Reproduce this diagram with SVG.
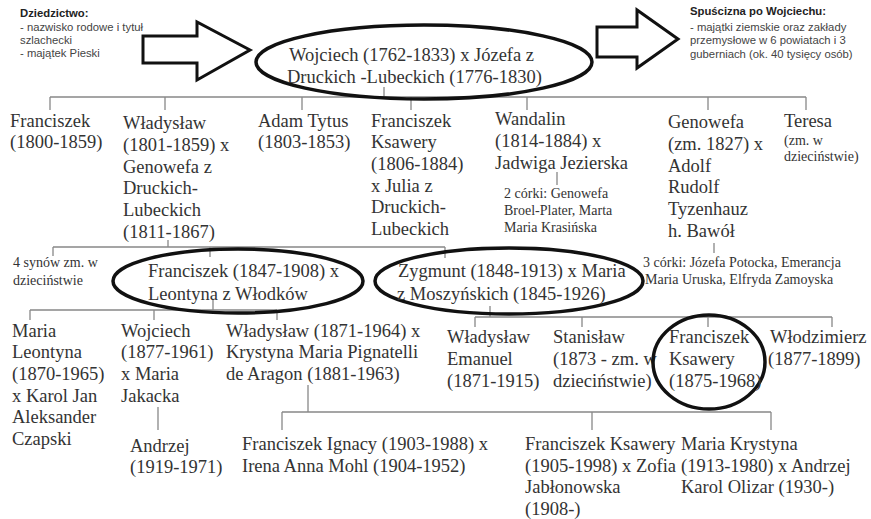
<svg xmlns="http://www.w3.org/2000/svg" width="871" height="519" viewBox="0 0 871 519">
<style>
.t{font-family:"Liberation Serif","Times New Roman",serif;font-size:18.5px;fill:#333}
.s{font-family:"Liberation Serif","Times New Roman",serif;font-size:14px;fill:#333}
.n{font-family:"Liberation Sans",Arial,sans-serif;font-size:11.3px;fill:#444}
.nb{font-family:"Liberation Sans",Arial,sans-serif;font-size:11.3px;font-weight:bold;fill:#222}
.c{stroke:#888;stroke-width:1.3;fill:none}
.e{fill:none;stroke:#111;stroke-width:3.5}
.a{fill:#fff;stroke:#111;stroke-width:3;stroke-linejoin:miter}
</style>
<rect width="871" height="519" fill="#fff"/>
<g id="dziedzictwo">
<text class="nb" x="20" y="17">Dziedzictwo:</text>
<text class="n" x="20" y="31">- nazwisko rodowe i tytuł</text>
<text class="n" x="20" y="44">szlachecki</text>
<text class="n" x="20" y="57">- majątek Pieski</text>
</g>
<g id="arrow-left"><polygon class="a" points="143,36 197,36 197,22 250,50 197,80 197,63 143,63"/></g>
<g id="arrow-right"><polygon class="a" points="597,27 637,27 637,10 678,39 637,68 637,57 597,57"/></g>
<g id="spuscizna">
<text class="nb" x="690" y="15">Spuścizna po Wojciechu:</text>
<text class="n" x="690" y="31">- majątki ziemskie oraz zakłady</text>
<text class="n" x="690" y="44">przemysłowe w 6 powiatach i 3</text>
<text class="n" x="690" y="58">guberniach (ok. 40 tysięcy osób)</text>
</g>
<g id="connectors">
<path class="c" d="M384,87V97M50,97H806M50,97V110M165,97V110M302,97V110M411,97V110M527,97V110M708,97V110M806,97V110"/>
<path class="c" d="M557,172V185M714,243V253"/>
<path class="c" d="M168,240V247M53,247H445M53,247V256M210,247V257M445,247V258"/>
<path class="c" d="M213,300V310M30,310H277M30,310V320M154,310V320M277,310V320"/>
<path class="c" d="M158,407V430"/>
<path class="c" d="M490,306V317M475,317H832M475,317V327M582,317V327M708,317V327M832,317V327"/>
<path class="c" d="M308,385V412M282,412H771M282,412V430M592,412V430M771,412V430"/>
</g>
<g id="wojciech">
<ellipse class="e" cx="424" cy="62" rx="168" ry="37"/>
<text class="t" x="289" y="61">Wojciech (1762-1833) x Józefa z</text>
<text class="t" x="287" y="83">Druckich -Lubeckich (1776-1830)</text>
</g>
<g id="franciszek-1800">
<text class="t" x="10" y="127">Franciszek</text>
<text class="t" x="10" y="148">(1800-1859)</text>
</g>
<g id="wladyslaw-1801">
<text class="t" x="123" y="129">Władysław</text>
<text class="t" x="123" y="151">(1801-1859) x</text>
<text class="t" x="123" y="173">Genowefa z</text>
<text class="t" x="123" y="194">Druckich-</text>
<text class="t" x="123" y="216">Lubeckich</text>
<text class="t" x="123" y="238">(1811-1867)</text>
</g>
<g id="adam-tytus">
<text class="t" x="258" y="127">Adam Tytus</text>
<text class="t" x="258" y="148">(1803-1853)</text>
</g>
<g id="franciszek-ksawery-1806">
<text class="t" x="371" y="127">Franciszek</text>
<text class="t" x="371" y="148">Ksawery</text>
<text class="t" x="371" y="170">(1806-1884)</text>
<text class="t" x="371" y="192">x Julia z</text>
<text class="t" x="371" y="213">Druckich-</text>
<text class="t" x="371" y="235">Lubeckich</text>
</g>
<g id="wandalin">
<text class="t" x="495" y="125">Wandalin</text>
<text class="t" x="495" y="147">(1814-1884) x</text>
<text class="t" x="495" y="169">Jadwiga Jezierska</text>
</g>
<g id="wandalin-corki">
<text class="s" x="504" y="198">2 córki: Genowefa</text>
<text class="s" x="504" y="215">Broel-Plater, Marta</text>
<text class="s" x="504" y="232">Maria Krasińska</text>
</g>
<g id="genowefa">
<text class="t" x="668" y="128">Genowefa</text>
<text class="t" x="668" y="150">(zm. 1827) x</text>
<text class="t" x="668" y="172">Adolf</text>
<text class="t" x="668" y="193">Rudolf</text>
<text class="t" x="668" y="215">Tyzenhauz</text>
<text class="t" x="668" y="237">h. Bawół</text>
</g>
<g id="genowefa-corki">
<text class="s" x="643" y="267">3 córki: Józefa Potocka, Emerancja</text>
<text class="s" x="645" y="284">Maria Uruska, Elfryda Zamoyska</text>
</g>
<g id="teresa">
<text class="t" x="784" y="127">Teresa</text>
<text class="s" x="784" y="145">(zm. w</text>
<text class="s" x="784" y="161">dzieciństwie)</text>
</g>
<g id="czterech-synow">
<text class="s" x="13" y="267">4 synów zm. w</text>
<text class="s" x="13" y="285">dzieciństwie</text>
</g>
<g id="franciszek-1847">
<ellipse class="e" cx="238" cy="281" rx="125" ry="32"/>
<text class="t" x="148" y="277">Franciszek (1847-1908) x</text>
<text class="t" x="148" y="300">Leontyna z Włodków</text>
</g>
<g id="zygmunt">
<ellipse class="e" cx="509" cy="281" rx="134" ry="33"/>
<text class="t" x="398" y="277">Zygmunt (1848-1913) x Maria</text>
<text class="t" x="397" y="300">z Moszyńskich (1845-1926)</text>
</g>
<g id="maria-leontyna">
<text class="t" x="12" y="337">Maria</text>
<text class="t" x="12" y="358">Leontyna</text>
<text class="t" x="12" y="380">(1870-1965)</text>
<text class="t" x="12" y="402">x Karol Jan</text>
<text class="t" x="12" y="423">Aleksander</text>
<text class="t" x="12" y="445">Czapski</text>
</g>
<g id="wojciech-1877">
<text class="t" x="121" y="337">Wojciech</text>
<text class="t" x="121" y="358">(1877-1961)</text>
<text class="t" x="121" y="380">x Maria</text>
<text class="t" x="121" y="402">Jakacka</text>
</g>
<g id="andrzej">
<text class="t" x="130" y="452">Andrzej</text>
<text class="t" x="130" y="473">(1919-1971)</text>
</g>
<g id="wladyslaw-1871">
<text class="t" x="226" y="337">Władysław (1871-1964) x</text>
<text class="t" x="226" y="358">Krystyna Maria Pignatelli</text>
<text class="t" x="226" y="380">de Aragon (1881-1963)</text>
</g>
<g id="wladyslaw-emanuel">
<text class="t" x="447" y="343">Władysław</text>
<text class="t" x="447" y="365">Emanuel</text>
<text class="t" x="447" y="387">(1871-1915)</text>
</g>
<g id="stanislaw">
<text class="t" x="553" y="343">Stanisław</text>
<text class="t" x="553" y="365">(1873 - zm. w</text>
<text class="t" x="553" y="387">dzieciństwie)</text>
</g>
<g id="franciszek-ksawery-1875">
<ellipse class="e" cx="709" cy="362" rx="56" ry="47"/>
<text class="t" x="669" y="343">Franciszek</text>
<text class="t" x="669" y="365">Ksawery</text>
<text class="t" x="669" y="387">(1875-1968)</text>
</g>
<g id="wlodzimierz">
<text class="t" x="770" y="343">Włodzimierz</text>
<text class="t" x="768" y="365">(1877-1899)</text>
</g>
<g id="franciszek-ignacy">
<text class="t" x="242" y="450">Franciszek Ignacy (1903-1988) x</text>
<text class="t" x="242" y="472">Irena Anna Mohl (1904-1952)</text>
</g>
<g id="franciszek-ksawery-1905">
<text class="t" x="525" y="450">Franciszek Ksawery</text>
<text class="t" x="525" y="472">(1905-1998) x Zofia</text>
<text class="t" x="525" y="493">Jabłonowska</text>
<text class="t" x="525" y="515">(1908-)</text>
</g>
<g id="maria-krystyna">
<text class="t" x="681" y="450">Maria Krystyna</text>
<text class="t" x="681" y="472">(1913-1980) x Andrzej</text>
<text class="t" x="681" y="493">Karol Olizar (1930-)</text>
</g>
</svg>
